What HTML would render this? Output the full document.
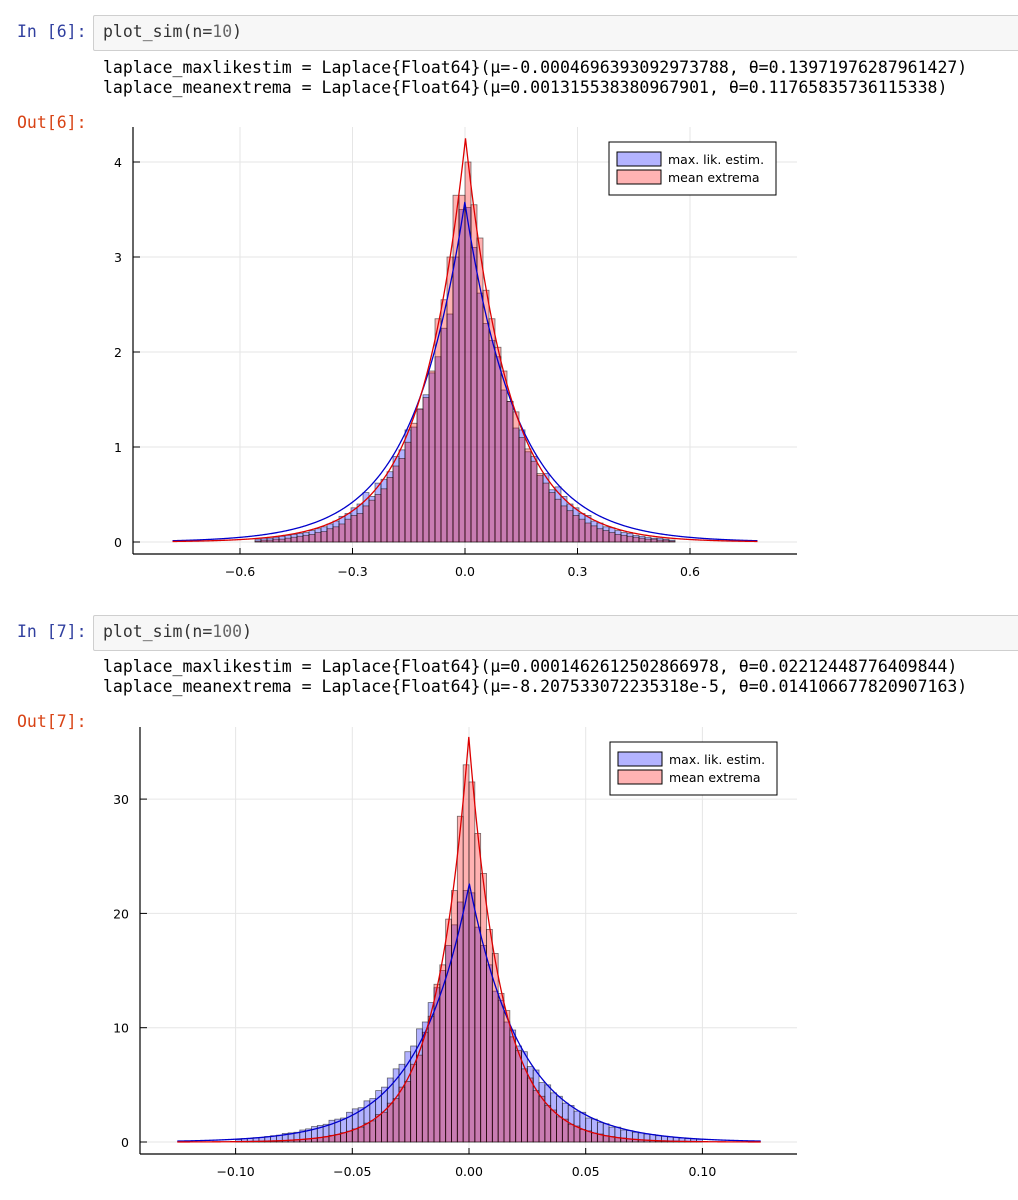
<!DOCTYPE html>
<html><head><meta charset="utf-8"><style>
body{margin:0;width:1018px;height:1200px;background:#fff;position:relative;overflow:hidden;font-family:"DejaVu Sans Mono","Liberation Mono",monospace;}
.p{position:absolute;font-size:16.5px;white-space:pre;line-height:20px}
.in{color:#303f9f}.out{color:#d84315}
.box{position:absolute;left:93px;width:940px;height:34px;background:#f7f7f7;border:1px solid #cfcfcf;border-radius:2px}
svg{position:absolute;left:0}
svg text{font-family:"DejaVu Sans","Liberation Sans",sans-serif;font-size:12.5px}
</style></head><body>
<div class="p in" style="left:17px;top:22px">In [6]:</div>
<div class="box" style="top:15px"></div>
<div class="p" style="left:103px;top:22px;color:#333">plot_sim(n=<span style="color:#666">10</span>)</div>
<div class="p" style="left:103px;top:58px">laplace_maxlikestim = Laplace{Float64}(μ=-0.0004696393092973788, θ=0.13971976287961427)
laplace_meanextrema = Laplace{Float64}(μ=0.001315538380967901, θ=0.11765835736115338)</div>
<div class="p out" style="left:17px;top:113px">Out[6]:</div>
<svg id="c1" width="1018" height="600" style="top:0"></svg>

<div class="p in" style="left:17px;top:622px">In [7]:</div>
<div class="box" style="top:615px"></div>
<div class="p" style="left:103px;top:622px;color:#333">plot_sim(n=<span style="color:#666">100</span>)</div>
<div class="p" style="left:103px;top:657px">laplace_maxlikestim = Laplace{Float64}(μ=0.0001462612502866978, θ=0.02212448776409844)
laplace_meanextrema = Laplace{Float64}(μ=-8.207533072235318e-5, θ=0.014106677820907163)</div>
<div class="p out" style="left:17px;top:712px">Out[7]:</div>
<svg id="c2" width="1018" height="1200" style="top:0"></svg>
<script>
// chart 1 data
const bins1Start=-0.56, bins1Width=0.016;
const blue1=[0.03,0.04,0.04,0.05,0.06,0.07,0.08,0.09,0.10,0.12,0.14,0.16,0.19,0.22,0.27,0.30,0.36,0.40,0.52,0.48,0.62,0.66,0.74,0.90,0.97,1.18,1.21,1.40,1.55,1.78,1.95,2.25,2.40,3.00,3.50,
3.52,3.10,2.62,2.30,2.12,1.95,1.60,1.48,1.20,1.18,0.95,0.90,0.70,0.72,0.55,0.58,0.48,0.40,0.36,0.30,0.28,0.22,0.20,0.16,0.15,0.12,0.10,0.09,0.07,0.06,0.05,0.04,0.04,0.03,0.02];
const red1=[0.01,0.02,0.02,0.03,0.03,0.04,0.05,0.06,0.07,0.08,0.10,0.11,0.14,0.16,0.19,0.24,0.28,0.30,0.38,0.44,0.50,0.56,0.68,0.80,0.88,1.05,1.25,1.40,1.52,1.80,2.35,2.55,3.00,3.65,3.65,
4.00,3.55,3.20,2.65,2.35,2.05,1.80,1.48,1.37,1.10,0.98,0.85,0.72,0.62,0.52,0.45,0.38,0.33,0.28,0.24,0.20,0.17,0.14,0.12,0.10,0.08,0.07,0.06,0.05,0.04,0.03,0.03,0.02,0.02,0.01];
const params1=[[-0.0004696393092973788,0.13971976287961427],[0.001315538380967901,0.11765835736115338]];
const xTicks1=[-0.6,-0.3,0,0.3,0.6], xTickLabels1=["−0.6","−0.3","0.0","0.3","0.6"];
const yTicks1=[0,1,2,3,4], yTickLabels1=["0","1","2","3","4"];
const curveRange1=[-0.78,0.78];
// chart 2 data
const bins2Start=-0.1, bins2Width=0.0025;
const blue2=[0.22,0.30,0.31,0.38,0.40,0.48,0.55,0.60,0.75,0.80,0.85,1.05,1.15,1.35,1.45,1.55,1.90,2.00,2.10,2.60,2.90,3.00,3.60,3.80,4.50,4.80,5.60,6.40,6.80,7.90,8.40,9.90,10.5,12.2,13.5,15.0,17.2,19.0,21.0,22.0,
21.8,18.8,17.2,15.5,13.2,12.4,10.5,9.8,8.4,7.9,6.6,6.3,5.2,5.0,4.3,4.0,3.4,3.2,2.7,2.6,2.1,2.0,1.7,1.6,1.3,1.3,1.05,1.0,0.85,0.8,0.7,0.65,0.55,0.5,0.45,0.4,0.35,0.3,0.28,0.24];
const red2=[0.03,0.04,0.05,0.06,0.07,0.09,0.10,0.12,0.14,0.16,0.20,0.22,0.28,0.32,0.40,0.46,0.58,0.66,0.82,0.95,1.15,1.30,1.65,1.85,2.40,2.60,3.40,3.80,4.80,5.30,6.80,7.60,9.60,11.0,13.8,15.5,19.5,22.0,28.5,33.0,
31.5,27.0,23.5,18.6,16.5,13.0,11.5,9.2,8.0,6.4,5.6,4.5,4.0,3.2,2.8,2.2,2.0,1.55,1.4,1.1,0.98,0.78,0.70,0.55,0.48,0.38,0.34,0.27,0.24,0.19,0.17,0.14,0.11,0.10,0.08,0.07,0.06,0.05,0.04,0.03];
const params2=[[0.0001462612502866978,0.02212448776409844],[-8.207533072235318e-5,0.014106677820907163]];
const xTicks2=[-0.1,-0.05,0,0.05,0.1], xTickLabels2=["−0.10","−0.05","0.00","0.05","0.10"];
const yTicks2=[0,10,20,30], yTickLabels2=["0","10","20","30"];
const curveRange2=[-0.125,0.125];

const NS="http://www.w3.org/2000/svg";
function mk(svg,tag,attrs,name){const e=document.createElementNS(NS,tag);for(const k in attrs)e.setAttribute(k,attrs[k]);


svg.appendChild(e);return e;}
function draw(svg,cfg){
  const X=v=>cfg.x0px+(v-cfg.x0v)*cfg.xs, Y=v=>cfg.y0px-v*cfg.ys;
  cfg.xTicks.forEach((t,i)=>{mk(svg,'line',{x1:X(t),x2:X(t),y1:cfg.top,y2:cfg.bottom,stroke:'#e6e6e6','stroke-width':1},'x-gridline');
    mk(svg,'line',{x1:X(t),x2:X(t),y1:cfg.bottom,y2:cfg.bottom-6,stroke:'#000'},'x-tick');
    const tx=mk(svg,'text',{x:X(t),y:cfg.bottom+22,'text-anchor':'middle'},'x-tick-label');tx.textContent=cfg.xLabels[i];});
  cfg.yTicks.forEach((t,i)=>{mk(svg,'line',{x1:cfg.left,x2:cfg.right,y1:Y(t),y2:Y(t),stroke:'#e6e6e6','stroke-width':1},'y-gridline');
    mk(svg,'line',{x1:cfg.left,x2:cfg.left+7,y1:Y(t),y2:Y(t),stroke:'#000'},'y-tick');
    const tx=mk(svg,'text',{x:cfg.left-11,y:Y(t)+5,'text-anchor':'end'},'y-tick-label');tx.textContent=cfg.yLabels[i];});
  [[cfg.blue,'rgba(0,0,255,0.3)','bar-max-lik'],[cfg.red,'rgba(255,0,0,0.3)','bar-mean-extrema']].forEach(([arr,col,nm])=>{
    arr.forEach((v,i)=>{const a=cfg.bs+i*cfg.bw, b=a+cfg.bw;
      mk(svg,'rect',{x:X(a),y:Y(v),width:X(b)-X(a),height:Y(0)-Y(v),fill:col,stroke:'rgba(0,0,0,0.55)','stroke-width':0.8},nm);});});
  [['#0000cc','curve-max-lik'],['#dd0000','curve-mean-extrema']].forEach(([col,nm],k)=>{
    const [mu,th]=cfg.params[k];let d='';const N=800;
    for(let i=0;i<=N;i++){let x=cfg.cr[0]+(cfg.cr[1]-cfg.cr[0])*i/N; if(i>0&&Math.abs(x-mu)<(cfg.cr[1]-cfg.cr[0])/N){ }
      const y=Math.exp(-Math.abs(x-mu)/th)/(2*th);d+=(i?'L':'M')+X(x).toFixed(2)+','+Y(y).toFixed(2);
      const nx=cfg.cr[0]+(cfg.cr[1]-cfg.cr[0])*(i+1)/N; if(x<mu&&nx>mu){d+='L'+X(mu).toFixed(2)+','+Y(1/(2*th)).toFixed(2);}}
    mk(svg,'path',{d:d,fill:'none',stroke:col,'stroke-width':1.3},nm);});
  mk(svg,'line',{x1:cfg.left,x2:cfg.left,y1:cfg.top,y2:cfg.bottom,stroke:'#000','stroke-width':1.2},'y-axis');
  mk(svg,'line',{x1:cfg.left,x2:cfg.right,y1:cfg.bottom,y2:cfg.bottom,stroke:'#000','stroke-width':1.2},'x-axis');
  const L=cfg.leg;
  mk(svg,'rect',{x:L[0],y:L[1],width:167,height:53,fill:'#fff',stroke:'#000','stroke-width':1},'legend-box');
  mk(svg,'rect',{x:L[0]+8,y:L[1]+10,width:44,height:14,fill:'#b3b3ff',stroke:'#000'},'legend-swatch-max-lik');
  mk(svg,'rect',{x:L[0]+8,y:L[1]+28,width:44,height:14,fill:'#ffb3b3',stroke:'#000'},'legend-swatch-mean-extrema');
  let t=mk(svg,'text',{x:L[0]+59,y:L[1]+22},'legend-label-max-lik');t.textContent='max. lik. estim.';
  t=mk(svg,'text',{x:L[0]+59,y:L[1]+40},'legend-label-mean-extrema');t.textContent='mean extrema';
}
draw(document.getElementById('c1'),{x0px:465,x0v:0,xs:375,y0px:542,ys:95,left:133,right:797,top:127,bottom:554,
  xTicks:xTicks1,xLabels:xTickLabels1,yTicks:yTicks1,yLabels:yTickLabels1,blue:blue1,red:red1,bs:bins1Start,bw:bins1Width,params:params1,cr:curveRange1,leg:[609,142]});
draw(document.getElementById('c2'),{x0px:469,x0v:0,xs:2334,y0px:1142,ys:11.43,left:140,right:797,top:727,bottom:1154,
  xTicks:xTicks2,xLabels:xTickLabels2,yTicks:yTicks2,yLabels:yTickLabels2,blue:blue2,red:red2,bs:bins2Start,bw:bins2Width,params:params2,cr:curveRange2,leg:[610,742]});
</script>
</body></html>
